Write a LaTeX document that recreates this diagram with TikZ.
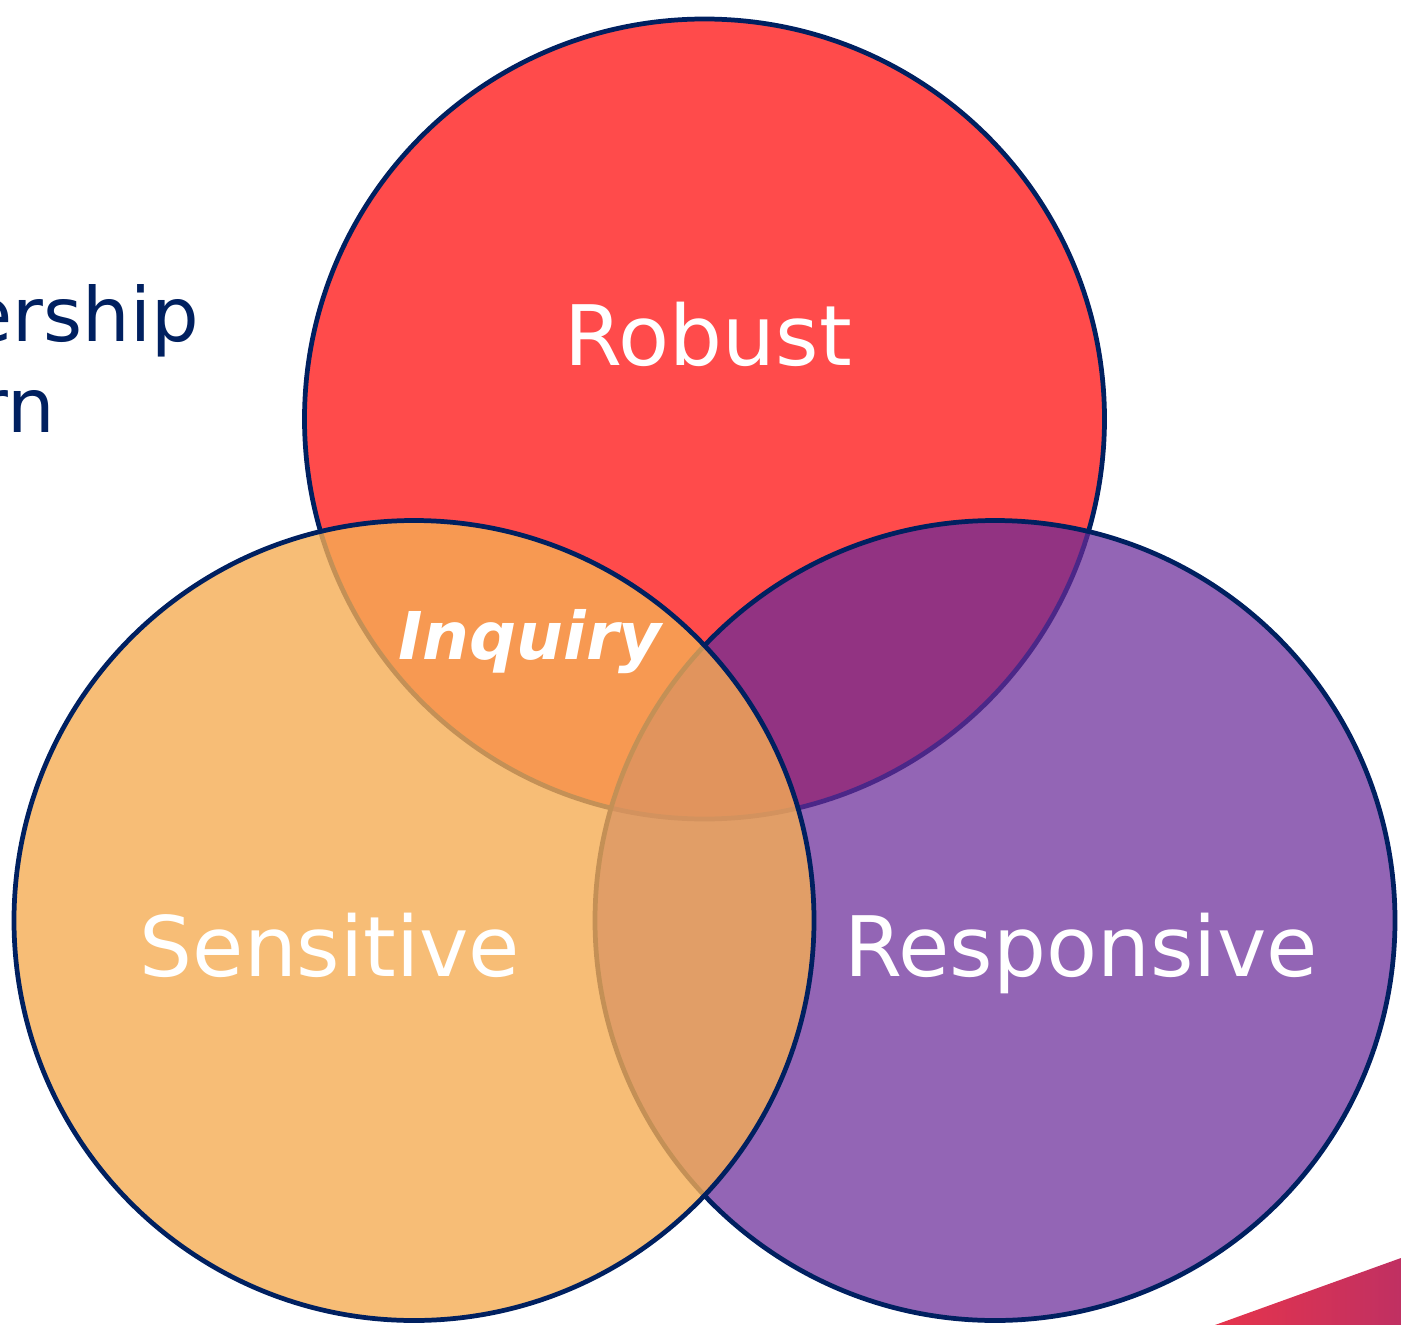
\documentclass[tikz,border=0pt]{standalone}
\usepackage{fontspec}
\setmainfont{DejaVu Sans}
\definecolor{navy}{RGB}{0,32,96}
\definecolor{rbred}{RGB}{255,75,75}
\definecolor{rbpurple}{RGB}{105,42,152}
\definecolor{rborange}{RGB}{245,173,84}
\definecolor{triL}{RGB}{230,52,76}
\definecolor{triR}{RGB}{192,48,98}
\tikzset{
  venn/.style={draw=navy, line width=2.7pt},
  biglabel/.style={text=white, font=\fontsize{47.5}{57}\selectfont, anchor=base, inner sep=0pt},
  sidetext/.style={text=navy, font=\fontsize{42.7}{51}\selectfont, anchor=base east, inner sep=0pt},
}
\begin{document}
\begin{tikzpicture}[x=0.02cm, y=-0.02cm]
\useasboundingbox (0,0) rectangle (1401,1325);
% side text (cut off at the left edge)
\node[sidetext] (t1) at (199,341) {ership};
\node[sidetext] (t2) at (55,432) {rn};
% bottom-right triangle
\shade[left color=triL, right color=triR] (1215,1325) -- (1401,1258) -- (1401,1325) -- cycle;
% circles: red, purple, orange (top)
\path[venn, fill=rbred] (704.5,419) circle[radius=400];
\path[venn, fill=rbpurple, fill opacity=0.72] (995,920.5) circle[radius=400];
\path[venn, fill=rborange, fill opacity=0.8] (414,920.5) circle[radius=400];
% labels
\node[biglabel] (robust) at (708,365) {Robust};
\node[biglabel] (sensitive) at (330,976) {Sensitive};
\node[biglabel] (responsive) at (1081,976) {Responsive};
\node[text=white, font=\fontsize{37.5}{44}\bfseries\itshape\selectfont, anchor=base, inner sep=0pt] (inquiry) at (530,659) {Inquiry};
\end{tikzpicture}
\end{document}
